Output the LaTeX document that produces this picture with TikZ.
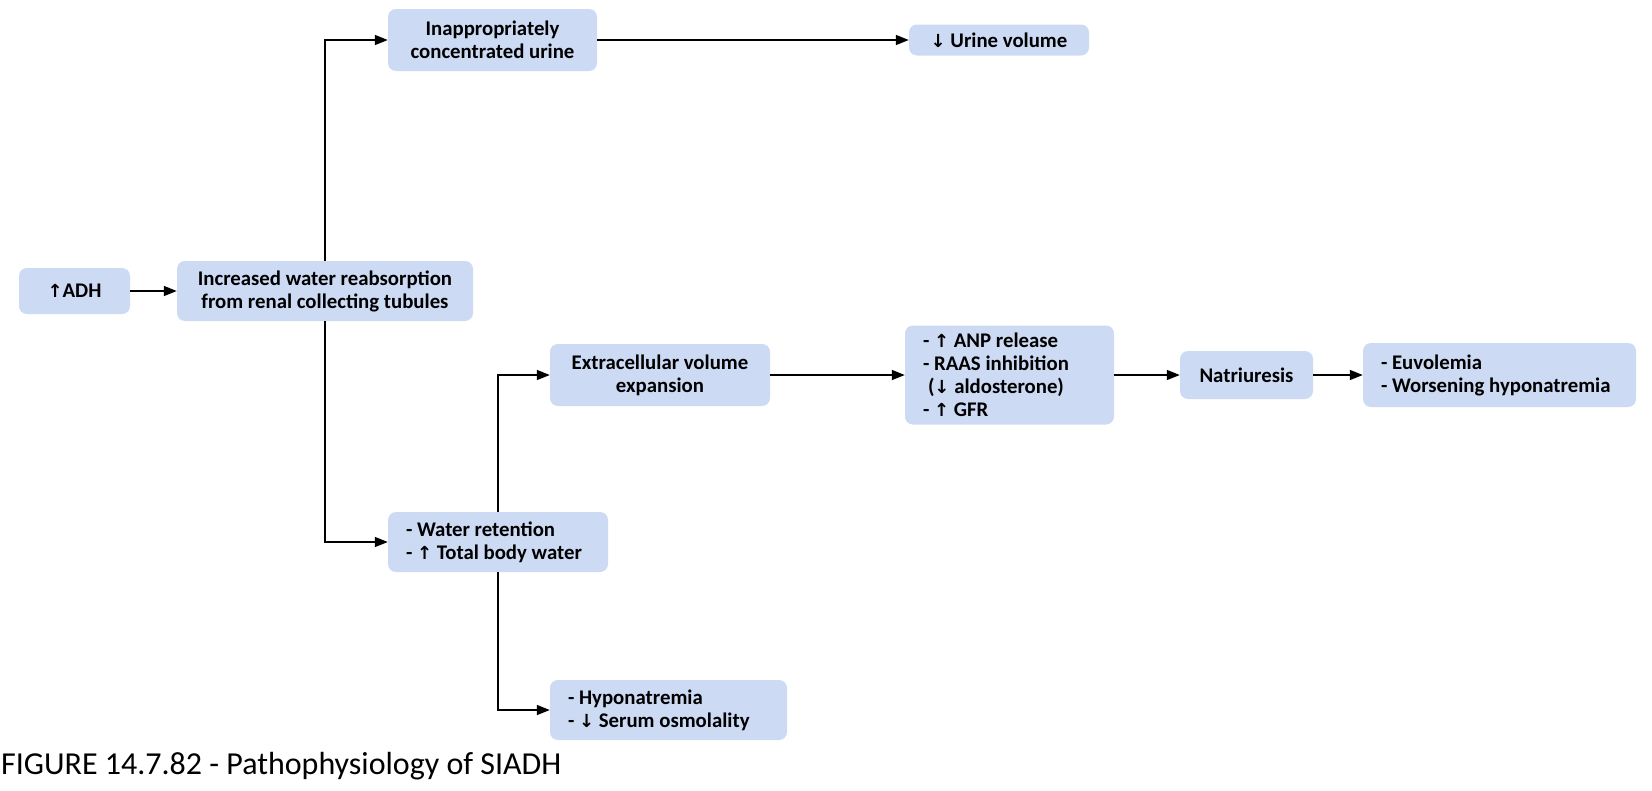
\documentclass[tikz,border=0pt]{standalone}
\usepackage{fontspec}
\setmainfont{Carlito}
\newfontfamily\arrfont{DejaVu Sans}
\usetikzlibrary{arrows.meta}
\definecolor{boxfill}{HTML}{CCDAF4}
\newcommand{\upA}{{\arrfont\bfseries\fontsize{18}{18}\selectfont↑}}
\newcommand{\dnA}{{\arrfont\bfseries\fontsize{18}{18}\selectfont↓}}
\tikzset{
  box/.style={fill=boxfill, rounded corners=8pt, inner sep=0pt, align=center,
    font=\fontsize{20.8}{23}\selectfont\bfseries},
  listbox/.style={box, align=flush left, inner xsep=18pt},
  conn/.style={line width=1.4pt, -{Triangle[length=13pt,width=10pt]}},
  capt/.style={font=\fontsize{32}{33}\selectfont, anchor=base west, inner sep=0pt}
}
\begin{document}
\begin{tikzpicture}[x=1pt,y=-1pt]
\useasboundingbox (0,0) rectangle (1652,790);
\node[box, minimum width=111pt, minimum height=46pt] (adh) at (74.5,291) {\upA ADH};
\node[box, minimum width=296pt, minimum height=60pt] (inc) at (325,291) {Increased water reabsorption\\from renal collecting tubules};
\node[box, minimum width=209pt, minimum height=62pt] (inap) at (492.5,40) {Inappropriately\\concentrated urine};
\node[box, minimum width=180pt, minimum height=31pt] (urine) at (999,40) {\dnA\ Urine volume};
\node[box, minimum width=220pt, minimum height=62pt] (ecv) at (660,375) {Extracellular volume\\expansion};
\node[listbox, text width=173pt, minimum height=99pt] (anp) at (1009.5,375) {-~\upA~ANP~release\\-~RAAS~inhibition\\\hspace*{5pt}(\dnA~aldosterone)\\-~\upA~GFR};
\node[box, minimum width=133pt, minimum height=48pt] (nat) at (1246.5,375) {Natriuresis};
\node[listbox, text width=237pt, minimum height=64pt] (euv) at (1499.5,375) {-~Euvolemia\\-~Worsening~hyponatremia};
\node[listbox, text width=184pt, minimum height=60pt] (wr) at (498,542) {-~Water~retention\\-~\upA~Total~body~water};
\node[listbox, text width=201pt, minimum height=60pt] (hyp) at (668.5,710) {-~Hyponatremia\\-~\dnA~Serum~osmolality};
\node[capt] (cap) at (1,774) {FIGURE 14.7.82 - Pathophysiology of SIADH};
\draw[conn] (adh) -- (inc);
\draw[conn] (inc.north) |- (inap.west);
\draw[conn] (inc.south) |- (wr.west);
\draw[conn] (inap) -- (urine);
\draw[conn] (wr.north) |- (ecv.west);
\draw[conn] (wr.south) |- (hyp.west);
\draw[conn] (ecv) -- (anp);
\draw[conn] (anp) -- (nat);
\draw[conn] (nat) -- (euv);
\end{tikzpicture}
\end{document}
